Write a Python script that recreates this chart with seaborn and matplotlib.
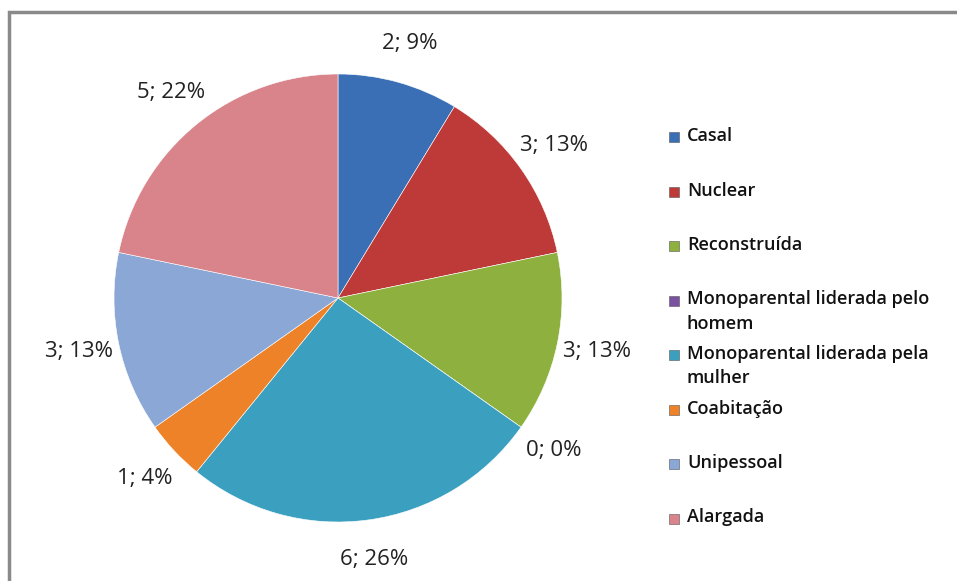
import matplotlib.pyplot as plt
import seaborn as sns
from matplotlib.patches import Rectangle

# Dados
categorias = ['Casal', 'Nuclear', 'Reconstruída',
              'Monoparental liderada pelo\nhomem',
              'Monoparental liderada pela\nmulher',
              'Coabitação', 'Unipessoal', 'Alargada']
valores = [2, 3, 3, 0, 6, 1, 3, 5]
percentagens = [9, 13, 13, 0, 26, 4, 13, 22]
cores = ['#3A6FB5', '#BE3A38', '#8DB03F', '#7A52A0',
         '#3BA0BF', '#EE8228', '#8AA7D6', '#D8848A']

sns.set_theme(style='white')
plt.rcParams['font.family'] = ['Open Sans', 'DejaVu Sans']

W, H = 957, 581
fig = plt.figure(figsize=(W / 100, H / 100), dpi=100)

# Moldura cinzenta (cortada à direita e em baixo)
fig.add_artist(Rectangle((9 / W, -0.1), 1.2, (H - 12) / H + 0.1,
                         transform=fig.transFigure, fill=False,
                         edgecolor='#8a8a8a', linewidth=2.5))

# Eixo do gráfico circular
cx, cy, r = 338, 298, 224
ax = fig.add_axes([(cx - r) / W, (H - cy - r) / H, 2 * r / W, 2 * r / H])
rotulos = [f'{v}; {p}%' for v, p in zip(valores, percentagens)]
fatias, textos = ax.pie(valores, colors=cores, startangle=90, counterclock=False,
                        labels=rotulos, labeldistance=1.18,
                        wedgeprops=dict(edgecolor='white', linewidth=0.4))
for t in textos:
    t.set_ha('center')
    t.set_va('center')
    t.set_fontsize(16)
    t.set_color('#222222')
ax.set_xlim(-1, 1)
ax.set_ylim(-1, 1)
ax.set_aspect('auto')

# Legenda manual (alinhada pela primeira linha, como no Excel)
y0, passo = 137, 54.5
for i, (nome, cor) in enumerate(zip(categorias, cores)):
    y = y0 + i * passo
    fig.add_artist(Rectangle((669 / W, (H - y - 5) / H), 10 / W, 10 / H,
                             transform=fig.transFigure, facecolor=cor,
                             edgecolor='#555555', linewidth=0.4))
    fig.text(687 / W, (H - y + 10) / H, nome, ha='left', va='top',
             fontsize=13, fontweight='semibold', color='#111111',
             linespacing=1.45)

fig.savefig('out.png', dpi=100)
